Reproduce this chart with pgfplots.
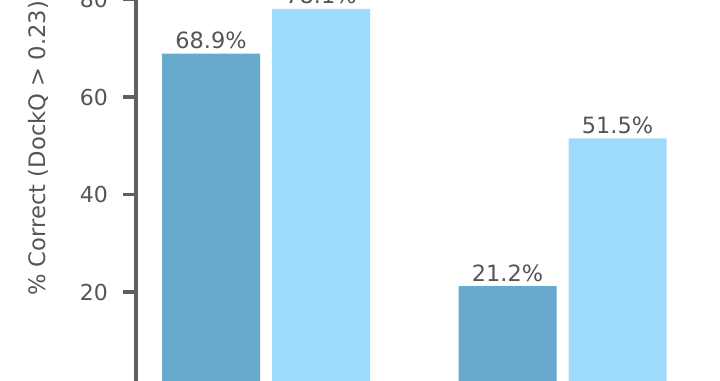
\documentclass[border=0pt]{standalone}
\usepackage{fontspec}
\setmainfont{DejaVu Sans}
\usepackage{pgfplots}
\pgfplotsset{compat=1.18}
\definecolor{darkbar}{RGB}{104,169,206}
\definecolor{lightbar}{RGB}{158,219,252}
\definecolor{txt}{RGB}{85,85,85}
\definecolor{spine}{RGB}{95,95,95}
\begin{document}
\begin{tikzpicture}
\begin{scope}
\clip (0,0) rectangle (540pt,285pt);
\begin{axis}[
  at={(102pt,-7.125pt)}, anchor=south west,
  scale only axis, width=438pt, height=292.5pt,
  xmin=-0.4384, xmax=1.531, ymin=0, ymax=80,
  axis x line=none, axis y line*=left,
  clip=false,
  ytick={20,40,60,80},
  tick align=outside,
  major tick length=9.5pt,
  y axis line style={draw=spine, line width=2.5pt, -},
  every tick/.style={draw=spine, line width=2.5pt},
  /pgf/number format/assume math mode=true,
  tick label style={font=\fontsize{16.5}{19}\selectfont, text=txt},
  yticklabel style={xshift=-8pt},
  ylabel={\% Correct (DockQ > 0.23)},
  every axis y label/.style={at={(axis description cs:-0.168,0.2397)}, rotate=90, anchor=west, inner sep=0pt, font=\fontsize{17}{20}\selectfont, text=txt},
  ybar, bar width=73.5pt,
  nodes near coords={\pgfmathprintnumber[fixed,precision=1,fixed zerofill]{\pgfplotspointmeta}\%},
  every node near coord/.append style={font=\fontsize{16.8}{19}\selectfont, text=txt},
]
\addplot[ybar, fill=darkbar, draw=none, bar shift=-41.25pt] coordinates {(0,68.9) (1,21.2)};
\addplot[ybar, fill=lightbar, draw=none, bar shift=41.25pt] coordinates {(0,78.1) (1,51.5)};
\end{axis}
\end{scope}
\pgfresetboundingbox
\path[use as bounding box] (0,0) rectangle (540pt,285pt);
\end{tikzpicture}
\end{document}
